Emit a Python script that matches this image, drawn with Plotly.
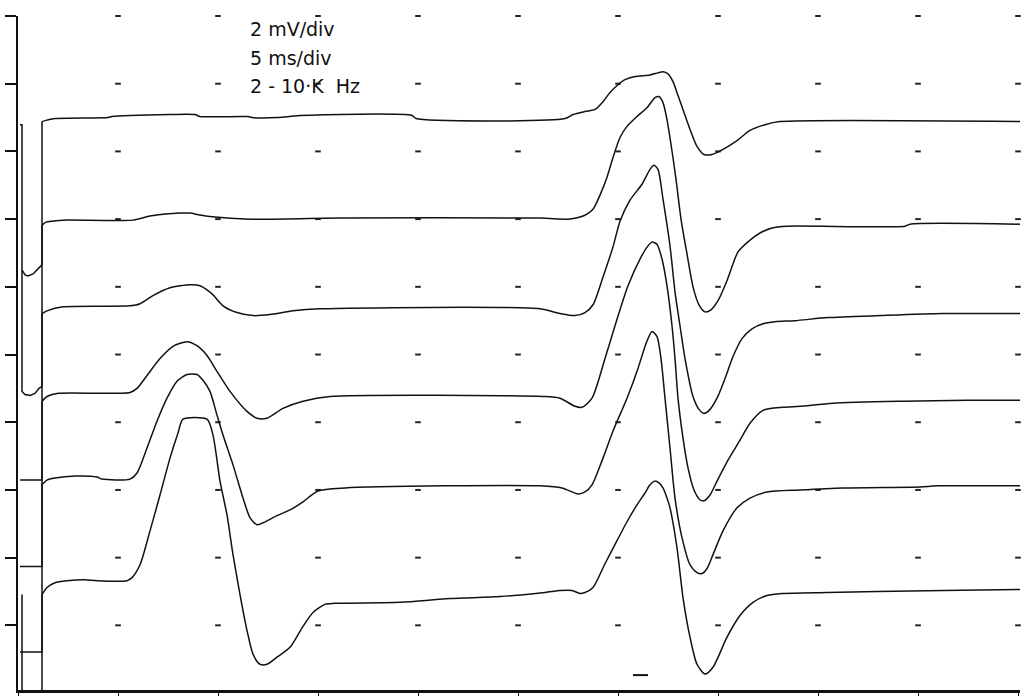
import plotly.graph_objects as go

# Nerve-conduction style sweeps. Time in ms (5 ms/div), amplitude in mV (2 mV/div),
# each value includes the sweep's display offset on the screen.

# stimulus artifacts at the start of each sweep
artifact1 = [(0.1, 16.79), (0.2, 16.79), (0.2, 12.5), (0.35, 12.35), (0.5, 12.32), (0.75, 12.38),
             (1.0, 12.53), (1.2, 12.65), (1.2, 16.88)]
artifact2 = [(0.2, 12.5), (0.2, 8.91), (0.35, 8.82), (0.6, 8.79), (0.85, 8.85), (1.05, 9.00),
             (1.2, 9.06), (1.2, 13.82)]
artifact3 = [(0.1, 6.29), (1.2, 6.29), (1.2, 11.21)]
artifact4 = [(0.1, 3.74), (1.2, 3.74), (1.2, 8.62)]
artifact5 = [(0.1, 1.21), (1.2, 1.21), (1.2, 6.15)]
artifact6 = [(0.2, 2.91), (0.2, 0.03), (1.2, 0.03), (1.2, 2.91)]

sweep1 = [(1.2, 16.88), (1.35, 16.91), (1.85, 16.97), (4.5, 17.00),
          (4.7, 17.03), (7.6, 17.09), (8.85, 17.09), (9.1, 17.03), (11.5, 17.03), (11.7, 17.00),
          (13.0, 17.00), (14.1, 17.06), (19.7, 17.06), (19.9, 16.97), (27.35, 16.97), (27.75, 17.09),
          (28.35, 17.18), (28.85, 17.24), (29.25, 17.47), (29.6, 17.74), (30.0, 17.97), (30.35, 18.12),
          (30.85, 18.21), (31.6, 18.26), (32.0, 18.32), (32.25, 18.35), (32.5, 18.29), (32.75, 18.06),
          (33.0, 17.65), (33.3, 17.15), (33.6, 16.65), (33.95, 16.15), (34.3, 15.91), (34.7, 15.91),
          (35.25, 16.06), (35.95, 16.32), (36.6, 16.62), (37.35, 16.79), (38.1, 16.88), (50.1, 16.88)]

sweep2 = [(1.2, 13.82), (1.4, 13.91), (1.75, 13.94), (2.25, 13.97), (5.75, 13.97),
          (6.6, 14.09), (7.35, 14.15), (8.1, 14.18), (8.6, 14.18), (9.1, 14.12), (9.85, 14.06),
          (11.35, 14.00), (16.1, 14.03), (26.1, 14.03), (27.6, 14.00), (28.1, 14.06), (28.45, 14.15),
          (28.75, 14.29), (29.1, 14.71), (29.45, 15.24), (29.75, 15.82), (30.1, 16.41), (30.45, 16.74),
          (30.95, 17.03), (31.45, 17.29), (31.85, 17.59), (32.05, 17.62), (32.25, 17.44), (32.45, 16.94),
          (32.65, 16.21), (32.9, 15.18), (33.15, 14.00), (33.45, 12.97), (33.75, 12.00), (34.05, 11.47),
          (34.35, 11.26), (34.65, 11.32), (35.0, 11.59), (35.45, 12.18), (36.0, 13.03), (36.6, 13.38),
          (37.1, 13.59), (37.7, 13.74), (38.45, 13.79), (44.35, 13.79), (44.6, 13.85), (50.1, 13.85)]

sweep3 = [(1.2, 11.21), (1.45, 11.29), (2.25, 11.41), (5.6, 11.44),
          (6.1, 11.5), (6.75, 11.74), (7.6, 11.97), (8.6, 12.06), (9.1, 12.03), (9.7, 11.79),
          (10.25, 11.44), (10.95, 11.24), (11.75, 11.15), (12.6, 11.18), (13.75, 11.29), (15.1, 11.35),
          (26.1, 11.35), (27.1, 11.21), (27.85, 11.15), (28.35, 11.24), (28.75, 11.47), (29.25, 12.29),
          (29.75, 13.18), (30.1, 13.94), (30.6, 14.56), (31.2, 15.03), (31.6, 15.47), (31.8, 15.59),
          (32.0, 15.47), (32.25, 14.59), (32.6, 13.21), (32.85, 11.85), (33.1, 10.85), (33.35, 9.88),
          (33.75, 8.76), (34.05, 8.38), (34.3, 8.26), (34.6, 8.38), (34.95, 8.71), (35.35, 9.29),
          (35.75, 9.94), (36.2, 10.47), (36.7, 10.76), (37.25, 10.91), (37.85, 10.97), (38.85, 11.00),
          (40.5, 11.09), (43.1, 11.15), (46.25, 11.21), (50.1, 11.21)]

sweep4 = [(1.2, 8.62), (1.45, 8.76), (1.95, 8.85), (5.6, 8.88),
          (5.95, 9.00), (6.45, 9.38), (7.1, 9.88), (7.75, 10.24), (8.45, 10.38), (8.95, 10.26),
          (9.45, 9.97), (9.95, 9.5), (10.6, 8.91), (11.45, 8.32), (11.95, 8.12), (12.45, 8.12),
          (13.25, 8.41), (14.25, 8.62), (15.6, 8.76), (26.25, 8.76), (27.1, 8.71), (27.85, 8.47),
          (28.2, 8.44), (28.7, 8.71), (29.35, 9.88), (29.85, 10.85), (30.5, 12.03), (31.1, 12.82),
          (31.5, 13.21), (31.7, 13.32), (31.95, 13.26), (32.2, 12.82), (32.45, 12.03), (32.7, 10.85),
          (32.85, 9.88), (33.0, 8.71), (33.25, 7.53), (33.5, 6.65), (33.8, 6.00), (34.1, 5.71),
          (34.3, 5.68), (34.6, 5.85), (34.95, 6.26), (35.5, 6.88), (36.1, 7.47), (36.6, 7.97),
          (37.25, 8.35), (38.25, 8.44), (39.1, 8.47), (40.75, 8.56), (44.25, 8.62), (47.45, 8.65),
          (50.1, 8.65)]

sweep5 = [(1.2, 6.15), (1.45, 6.29), (1.85, 6.35), (2.85, 6.41),
          (3.95, 6.38), (4.2, 6.32), (5.6, 6.32), (5.95, 6.5), (6.45, 7.24), (6.95, 8.03),
          (7.45, 8.71), (7.95, 9.21), (8.45, 9.41), (8.95, 9.41), (9.25, 9.24), (9.6, 8.91),
          (9.95, 8.21), (10.25, 7.62), (10.75, 6.74), (11.25, 5.76), (11.6, 5.18), (11.95, 4.97),
          (12.25, 5.03), (12.95, 5.24), (13.6, 5.41), (14.25, 5.65), (15.0, 5.97), (16.35, 6.06),
          (21.35, 6.12), (26.1, 6.12), (27.2, 6.06), (28.0, 5.88), (28.35, 5.94), (28.7, 6.15),
          (29.25, 6.94), (29.75, 7.74), (30.45, 8.71), (31.0, 9.59), (31.4, 10.32), (31.7, 10.68),
          (31.95, 10.53), (32.15, 9.88), (32.35, 8.71), (32.6, 7.24), (32.85, 5.76), (33.2, 4.59),
          (33.6, 3.79), (33.95, 3.56), (34.2, 3.53), (34.45, 3.68), (34.75, 4.09), (35.25, 4.79),
          (35.95, 5.47), (36.6, 5.76), (37.45, 5.94), (39.1, 6.00), (41.25, 6.06), (45.1, 6.09),
          (45.95, 6.12), (50.1, 6.12)]

sweep6 = [(1.2, 2.91), (1.45, 3.12), (1.85, 3.26),
          (2.45, 3.32), (3.35, 3.35), (3.95, 3.32), (5.45, 3.32), (5.7, 3.41), (6.1, 3.79),
          (6.6, 4.79), (7.1, 5.85), (7.6, 6.94), (8.0, 7.68), (8.25, 8.09), (9.45, 8.09),
          (9.75, 7.62), (10.1, 6.26), (10.45, 5.26), (10.75, 4.09), (11.1, 2.91), (11.45, 1.85),
          (11.75, 1.15), (12.1, 0.85), (12.45, 0.85), (12.95, 1.06), (13.6, 1.35), (14.25, 1.97),
          (14.75, 2.38), (15.35, 2.62), (15.85, 2.65), (19.1, 2.68), (21.6, 2.79), (24.1, 2.85),
          (26.35, 2.97), (27.1, 3.03), (27.7, 3.03), (28.1, 2.94), (28.35, 2.97), (28.75, 3.12),
          (29.35, 3.82), (29.95, 4.5), (30.45, 5.06), (30.95, 5.56), (31.35, 5.91), (31.6, 6.15),
          (31.85, 6.26), (32.05, 6.21), (32.25, 6.06), (32.45, 5.76), (32.6, 5.47), (32.95, 4.29),
          (33.25, 2.82), (33.6, 1.65), (33.95, 0.85), (34.35, 0.56), (34.75, 0.76), (35.45, 1.65),
          (36.1, 2.29), (36.75, 2.68), (37.45, 2.88), (38.2, 2.94), (40.45, 2.97), (42.95, 3.00),
          (46.25, 3.03), (50.1, 3.06)]

artifacts = [artifact1, artifact2, artifact3, artifact4, artifact5, artifact6]
sweeps = [sweep1, sweep2, sweep3, sweep4, sweep5, sweep6]

# latency cursor (ms, mV)
cursor_t = [30.75, 31.5]
cursor_v = [0.53, 0.53]

# screen divisions
time_div_ms = 5
volt_div_mV = 2
n_div_x = 10
n_div_y = 10

settings_text = ["2 mV/div", "5 ms/div", "2 - 10\u00b7K\u00a0\u00a0Hz"]

fig = go.Figure()

# grid dots at every division crossing
gx, gy = [], []
for i in range(1, n_div_x + 1):
    for j in range(1, n_div_y + 1):
        gx.append(i * time_div_ms)
        gy.append(j * volt_div_mV)
fig.add_trace(go.Scatter(x=gx, y=gy, mode="markers", cliponaxis=False, hoverinfo="skip",
                         marker=dict(symbol="line-ew", size=4,
                                     line=dict(width=2, color="#222222"))))

for a in artifacts:
    fig.add_trace(go.Scatter(x=[p[0] for p in a], y=[p[1] for p in a], mode="lines",
                             line=dict(color="#111111", width=1.5), hoverinfo="skip"))

for s in sweeps:
    fig.add_trace(go.Scatter(x=[p[0] for p in s], y=[p[1] for p in s], mode="lines",
                             line=dict(color="#111111", width=1.5, shape="spline", smoothing=0.7),
                             hoverinfo="skip"))

fig.add_trace(go.Scatter(x=cursor_t, y=cursor_v, mode="lines",
                         line=dict(color="#111111", width=2), hoverinfo="skip"))

text_y = [19.62, 18.76, 17.94]
for txt, ty in zip(settings_text, text_y):
    fig.add_annotation(x=11.5, y=ty, xref="x", yref="y", text=txt, showarrow=False,
                       xanchor="left", yanchor="middle",
                       font=dict(family="DejaVu Sans", size=19, color="#111111"))

fig.update_layout(
    width=1024, height=697,
    margin=dict(l=18, r=4, t=16, b=4),
    paper_bgcolor="white", plot_bgcolor="white",
    showlegend=False,
    xaxis=dict(range=[0, 50.1], showline=True, linecolor="#111111", linewidth=3,
               ticks="outside", ticklen=3, tickwidth=1, tickcolor="#111111",
               tick0=0, dtick=time_div_ms, showticklabels=False, showgrid=False,
               zeroline=False),
    yaxis=dict(range=[0.09, 20], showline=True, linecolor="#111111", linewidth=2,
               ticks="outside", ticklen=11, tickwidth=2, tickcolor="#111111",
               tick0=0, dtick=volt_div_mV, showticklabels=False, showgrid=False,
               zeroline=False),
)

fig.write_html("out.html", config={"displayModeBar": False},
               post_script="document.body.style.margin='0';document.body.style.overflow='hidden';")
